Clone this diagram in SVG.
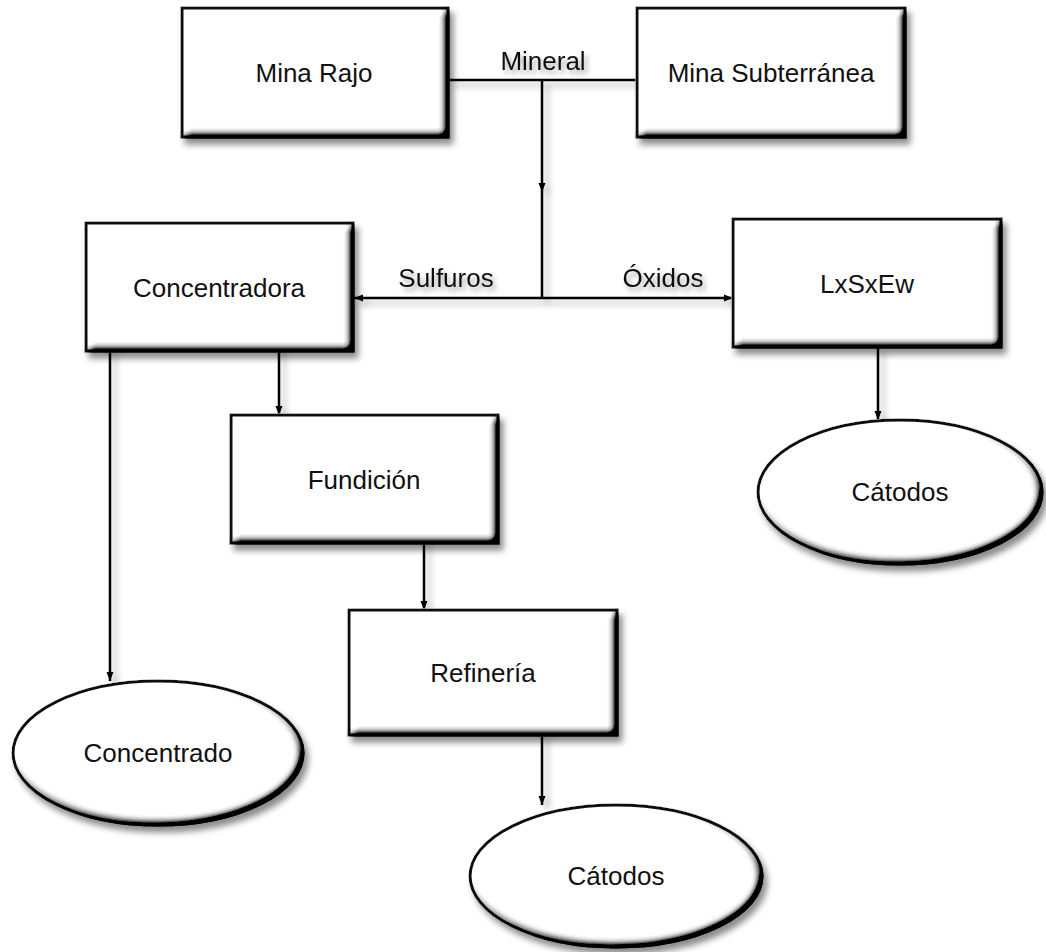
<svg xmlns="http://www.w3.org/2000/svg" width="1046" height="952" viewBox="0 0 1046 952">
<defs>
<style>
.box{fill:#fff;stroke:#111;stroke-width:3;filter:url(#bevel)}
.lbl{font-family:"Liberation Sans",Arial,sans-serif;font-size:26px;fill:#111;text-anchor:middle}
.elbl{font-family:"Liberation Sans",Arial,sans-serif;font-size:26px;fill:#111;text-anchor:middle;filter:url(#tshadow)}
.con{fill:none;stroke:#000;stroke-width:2.5}
</style>
<filter id="bevel" x="-10%" y="-10%" width="125%" height="135%">
<feGaussianBlur in="SourceAlpha" stdDeviation="3" result="b"/>
<feOffset in="b" dx="4" dy="6" result="ob"/>
<feFlood flood-color="#000" flood-opacity="0.45"/>
<feComposite in2="ob" operator="in" result="shadow"/>
<feGaussianBlur in="SourceAlpha" stdDeviation="4" result="b2"/>
<feDiffuseLighting in="b2" surfaceScale="12" diffuseConstant="1.35" lighting-color="#fff" result="light"><feDistantLight azimuth="225" elevation="48"/></feDiffuseLighting>
<feComposite in="light" in2="SourceAlpha" operator="in" result="lightIn"/>
<feBlend in="SourceGraphic" in2="lightIn" mode="multiply" result="bev"/>
<feMerge><feMergeNode in="shadow"/><feMergeNode in="bev"/></feMerge>
</filter>
<filter id="tshadow" x="-20%" y="-40%" width="150%" height="200%">
<feGaussianBlur in="SourceAlpha" stdDeviation="2.5" result="b"/>
<feOffset in="b" dx="3" dy="4" result="ob"/>
<feFlood flood-color="#000" flood-opacity="0.35"/>
<feComposite in2="ob" operator="in" result="s"/>
<feMerge><feMergeNode in="s"/><feMergeNode in="SourceGraphic"/></feMerge>
</filter>
<filter id="lshadow" x="-50%" y="-20%" width="200%" height="140%">
<feGaussianBlur in="SourceAlpha" stdDeviation="3" result="b"/>
<feOffset in="b" dx="5" dy="5" result="ob"/>
<feFlood flood-color="#000" flood-opacity="0.3"/>
<feComposite in2="ob" operator="in" result="s"/>
<feMerge><feMergeNode in="s"/><feMergeNode in="SourceGraphic"/></feMerge>
</filter>
<marker id="arr" markerUnits="userSpaceOnUse" markerWidth="10" markerHeight="8" refX="9" refY="4" orient="auto-start-reverse">
<path d="M0,0.5 L9,4 L0,7.5 z" fill="#000"/>
</marker>
</defs>
<rect width="1046" height="952" fill="#fff"/>

<g id="connectors" filter="url(#lshadow)">
<path class="con" d="M448,80 L638,80"/>
<path class="con" d="M542,80 L542,192 L542,298" marker-mid="url(#arr)"/>
<path class="con" d="M354,298 L733,298" marker-start="url(#arr)" marker-end="url(#arr)"/>
<path class="con" d="M878,347 L878,420" marker-end="url(#arr)"/>
<path class="con" d="M279,343 L279,415" marker-end="url(#arr)"/>
<path class="con" d="M110,345 L110,681" marker-end="url(#arr)"/>
<path class="con" d="M424,537 L424,610" marker-end="url(#arr)"/>
<path class="con" d="M542,730 L542,805" marker-end="url(#arr)"/>
</g>

<g id="edge-labels">
<text class="elbl" x="543" y="70">Mineral</text>
<text class="elbl" x="446" y="287">Sulfuros</text>
<text class="elbl" x="663" y="287">Óxidos</text>
</g>

<g id="mina-rajo">
<rect class="box" x="182" y="8" width="266" height="129"/>
<text class="lbl" x="314" y="82">Mina Rajo</text>
</g>
<g id="mina-subterranea">
<rect class="box" x="637" y="8" width="268" height="129"/>
<text class="lbl" x="771" y="82">Mina Subterránea</text>
</g>
<g id="concentradora">
<rect class="box" x="86" y="223" width="267" height="128"/>
<text class="lbl" x="219" y="297">Concentradora</text>
</g>
<g id="lxsxew">
<rect class="box" x="733" y="219" width="268" height="128"/>
<text class="lbl" x="867" y="293">LxSxEw</text>
</g>
<g id="fundicion">
<rect class="box" x="231" y="415" width="267" height="128"/>
<text class="lbl" x="364" y="489">Fundición</text>
</g>
<g id="refineria">
<rect class="box" x="349" y="610" width="268" height="125"/>
<text class="lbl" x="483" y="682">Refinería</text>
</g>
<g id="catodos-lx">
<ellipse class="box" cx="900" cy="492" rx="142" ry="72"/>
<text class="lbl" x="900" y="501">Cátodos</text>
</g>
<g id="concentrado">
<ellipse class="box" cx="158" cy="753" rx="145" ry="72"/>
<text class="lbl" x="158" y="762">Concentrado</text>
</g>
<g id="catodos-ref">
<ellipse class="box" cx="616" cy="876" rx="146" ry="71"/>
<text class="lbl" x="616" y="885">Cátodos</text>
</g>
</svg>
